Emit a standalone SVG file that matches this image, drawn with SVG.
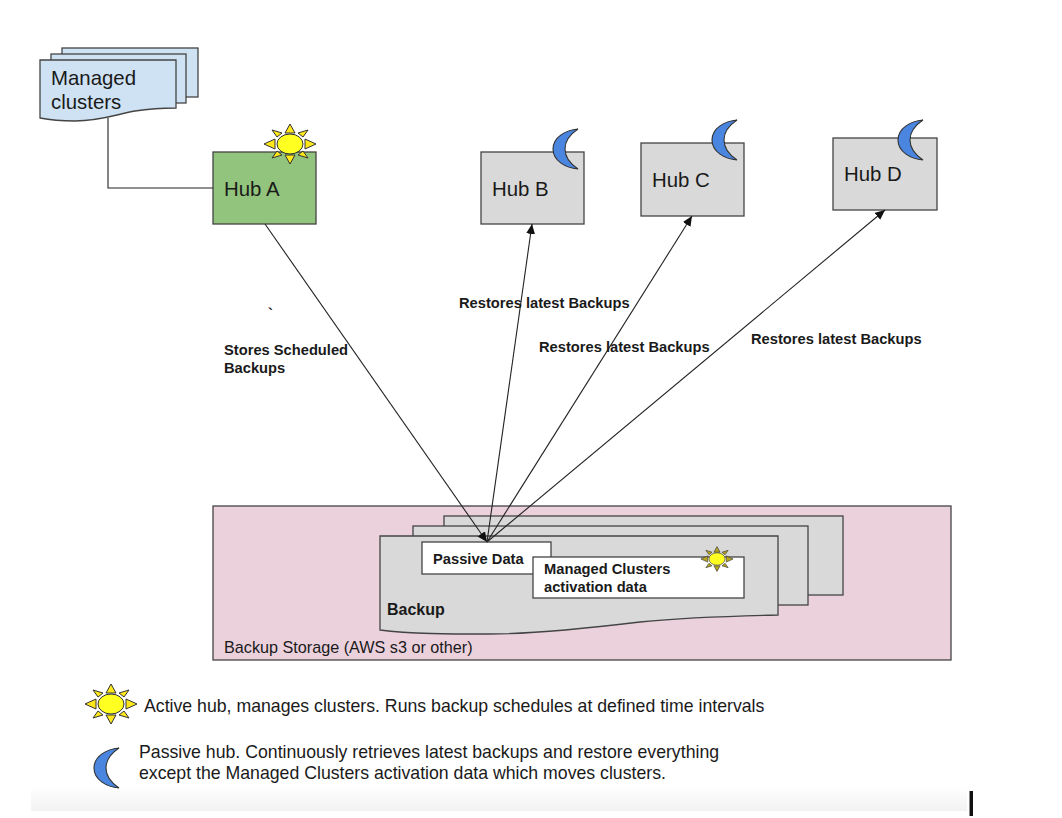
<svg xmlns="http://www.w3.org/2000/svg" xmlns:xlink="http://www.w3.org/1999/xlink" width="1062" height="818" viewBox="0 0 1062 818">
<style>
text{font-family:"Liberation Sans",Arial,sans-serif;fill:#1a1a1a}
.s{stroke:#444;stroke-width:1.3}
.blue{fill:#cfe2f3}
.gray{fill:#d9d9d9}
.white{fill:#fff}
.hub{font-size:20.400px}
.b{font-size:14.700px;font-weight:bold}
.n{font-size:17.700px}
.conn{fill:none;stroke:#222;stroke-width:1.1}
.ray{fill:var(--ray,#ffe81a);stroke:#333;stroke-width:1}
.core{fill:#ffff22;stroke:#333;stroke-width:1}
.moon{fill:#4a86e0;stroke:#333;stroke-width:1.1}
</style>
<defs>
<linearGradient id="fade" x1="0" y1="0" x2="0" y2="1"><stop offset="0" stop-color="#fff"/><stop offset="1" stop-color="#f2f2f2"/></linearGradient>
<marker id="arr" markerUnits="userSpaceOnUse" markerWidth="12" markerHeight="10" refX="10" refY="4.500" orient="auto"><path d="M0 0L10 4.500L0 9Z" fill="#111"/></marker>
<g id="sun">
<path class="ray" d="M-5-11L0-20L5-11ZM-5 11L0 20L5 11ZM-15-5L-26 0L-15 5ZM15-5L26 0L15 5ZM-18-14L-8-11L-13-7ZM18-14L8-11L13-7ZM-18 14L-8 11L-13 7ZM18 14L8 11L13 7Z"/>
<ellipse class="core" cx="0" cy="0" rx="13" ry="10"/>
</g>
<path id="moon" class="moon" d="M25 0C13 1 0 8 0 20C0 32 13 39 25 40C16 34 12 27 12 20C12 13 16 6 25 0Z"/>
</defs>
<rect width="1062" height="818" fill="#fff"/>
<rect x="31" y="785" width="936" height="26" fill="url(#fade)"/>
<rect x="969.500" y="791" width="3.500" height="25" fill="#111"/>
<g id="storage">
<rect x="213" y="506" width="738" height="154" fill="#ead1dc" class="s"/>
<text x="224" y="652.500" font-size="16.200">Backup Storage (AWS s3 or other)</text>
</g>
<g id="managed-clusters">
<rect class="s blue" x="62" y="48" width="136" height="49"/>
<rect class="s blue" x="51" y="54" width="135" height="49"/>
<path class="s blue" d="M40 60H176V108C160 108 148 109 135 111C118 114 100 121 75 121C60 121 50 120 40 118Z"/>
<text x="51" y="85" class="hub">Managed</text>
<text x="51" y="109" class="hub">clusters</text>
</g>
<g id="hub-a">
<rect class="s" x="213" y="152" width="103" height="72" fill="#93c47d"/>
<text x="224" y="196" class="hub">Hub A</text>
<use xlink:href="#sun" href="#sun" x="290" y="144"/>
</g>
<g id="hub-b">
<rect class="s gray" x="481" y="152" width="103" height="72"/>
<text x="492" y="196" class="hub">Hub B</text>
<use xlink:href="#moon" href="#moon" x="553" y="129"/>
</g>
<g id="hub-c">
<rect class="s gray" x="641" y="143" width="103" height="73"/>
<text x="652" y="187" class="hub">Hub C</text>
<use xlink:href="#moon" href="#moon" x="712" y="120"/>
</g>
<g id="hub-d">
<rect class="s gray" x="833" y="138" width="104" height="72"/>
<text x="844" y="181" class="hub">Hub D</text>
<use xlink:href="#moon" href="#moon" x="898" y="120"/>
</g>
<g id="backup">
<rect class="s gray" x="444" y="516" width="399" height="79"/>
<rect class="s gray" x="413" y="526" width="395" height="79"/>
<path class="s gray" d="M380 536H778V615C730 616 680 618 640 622C590 628 530 634 490 634C450 634 410 634 380 630Z"/>
<text x="387" y="615" font-size="16" font-weight="bold">Backup</text>
</g>
<g id="passive-data">
<rect class="s white" x="422" y="542" width="129" height="32"/>
<text x="433" y="564" class="b">Passive Data</text>
</g>
<g id="activation-data">
<rect class="s white" x="533" y="557" width="211" height="41"/>
<text x="544" y="574" class="b">Managed Clusters</text>
<text x="544" y="592" class="b">activation data</text>
<use xlink:href="#sun" href="#sun" transform="translate(717 559) scale(.62)" style="--ray:#b5a51e"/>
</g>
<g id="connectors">
<path class="conn" d="M108 118V188H213"/>
<path class="conn" d="M265 224L487 542" marker-end="url(#arr)"/>
<path class="conn" d="M487 542L532 224" marker-end="url(#arr)"/>
<path class="conn" d="M487 542L692 216" marker-end="url(#arr)"/>
<path class="conn" d="M487 542L885 210" marker-end="url(#arr)"/>
</g>
<g id="labels">
<text x="268" y="319" class="b">`</text>
<text x="224" y="355" class="b">Stores Scheduled</text>
<text x="224" y="373" class="b">Backups</text>
<text x="459" y="308" class="b">Restores latest Backups</text>
<text x="539" y="352" class="b">Restores latest Backups</text>
<text x="751" y="344" class="b">Restores latest Backups</text>
</g>
<g id="legend">
<use xlink:href="#sun" href="#sun" x="111" y="704"/>
<text x="144" y="711.500" class="n">Active hub, manages clusters. Runs backup schedules at defined time intervals</text>
<use xlink:href="#moon" href="#moon" x="94" y="748"/>
<text x="139" y="758" class="n">Passive hub. Continuously retrieves latest backups and restore everything</text>
<text x="139" y="779" class="n">except the Managed Clusters activation data which moves clusters.</text>
</g>
</svg>
